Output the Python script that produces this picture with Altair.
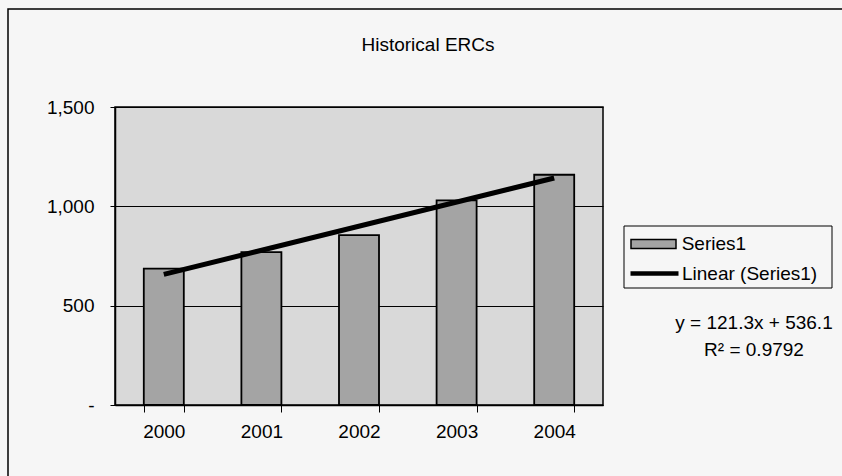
import altair as alt
import pandas as pd

# ---- data ----
years = ["2000", "2001", "2002", "2003", "2004"]
ercs = [686, 770, 855, 1030, 1159]
trend_years = ["2000", "2004"]
trend_values = [657.4, 1142.6]
y_ticks = [0, 500, 1000, 1500]
bar_series = ["Series1"]
line_series = ["Linear (Series1)"]
equation_lines = ["y = 121.3x + 536.1", "R² = 0.9792"]
title_text = "Historical ERCs"

FONT = "Liberation Sans"
W, H = 488, 298
LEFT, TOP = 115, 107
RIGHT, BOTTOM = 842 - LEFT - W, 476 - TOP - H

bars_df = pd.DataFrame({"Year": years, "ERCs": ercs,
                        "bar_series": bar_series * len(years)})
trend_df = pd.DataFrame({"Year": trend_years, "ERCs": trend_values,
                         "line_series": line_series * len(trend_years)})
eq_df = pd.DataFrame({"label": ["\n".join(equation_lines)]})
one_df = pd.DataFrame({"k": [0]})

x_enc = alt.X(
    "Year:N", sort=years,
    scale=alt.Scale(domain=years, paddingInner=0.59, paddingOuter=0.295),
    axis=alt.Axis(title=None, labelAngle=0, tickBand="extent", tickSize=7,
                  labelPadding=10, labelFontSize=19, labelFont=FONT,
                  labelColor="black", domainColor="black", tickColor="black",
                  domainWidth=1.5, tickWidth=1, grid=False),
)
y_enc = alt.Y(
    "ERCs:Q",
    scale=alt.Scale(domain=[0, 1500], nice=False),
    axis=alt.Axis(values=y_ticks, title=None,
                  labelExpr="datum.value == 0 ? '-' : format(datum.value, ',')",
                  grid=True, gridColor="black", gridWidth=1, gridOpacity=1,
                  tickSize=5, tickColor="black", labelPadding=16,
                  labelFontSize=19, labelFont=FONT, labelColor="black",
                  domainColor="black", domainWidth=1.5),
)

frame = alt.Chart(one_df).mark_rect(filled=False, stroke="black", strokeWidth=1.5).encode(
    x=alt.value(8 - LEFT), x2=alt.value(900), y=alt.value(9 - TOP), y2=alt.value(600)
)

bars = alt.Chart(bars_df).mark_bar(stroke="black", strokeWidth=1.8).encode(
    x=x_enc, y=y_enc,
    fill=alt.Fill("bar_series:N",
                  scale=alt.Scale(domain=bar_series, range=["#a4a4a4"]),
                  legend=alt.Legend(orient="none", legendX=515, legendY=113.5,
                                    title=None, padding=0,
                                    symbolType="M-1,-0.2H1V0.2H-1Z", symbolSize=2025,
                                    symbolStrokeColor="black", symbolStrokeWidth=1.5,
                                    labelFontSize=19, labelFont=FONT,
                                    labelColor="black", labelOffset=4.7)),
)

trend = alt.Chart(trend_df).mark_line(strokeWidth=5).encode(
    x=alt.X("Year:N", sort=years),
    y=alt.Y("ERCs:Q"),
    stroke=alt.Stroke("line_series:N",
                      scale=alt.Scale(domain=line_series, range=["black"]),
                      legend=alt.Legend(orient="none", legendX=513, legendY=140,
                                        title=None, padding=0,
                                        symbolType="stroke", symbolSize=2304,
                                        symbolStrokeWidth=4.5,
                                        labelFontSize=19, labelFont=FONT,
                                        labelColor="black", labelOffset=1)),
)

legend_box = alt.Chart(one_df).mark_rect(filled=False, stroke="black", strokeWidth=1).encode(
    x=alt.value(624 - LEFT), x2=alt.value(832 - LEFT),
    y=alt.value(226 - TOP), y2=alt.value(288 - TOP)
)

equation = alt.Chart(eq_df).mark_text(
    lineBreak="\n", align="center", baseline="middle", fontSize=19,
    font=FONT, color="black", lineHeight=27
).encode(
    text="label:N", x=alt.value(754 - LEFT), y=alt.value(323 - TOP)
)

chart = alt.layer(frame, bars, trend, legend_box, equation).resolve_scale(
    fill="independent", stroke="independent"
).properties(
    width=W, height=H,
    title=alt.Title(title_text, fontSize=19, font=FONT, fontWeight="normal",
                    color="black", anchor="middle", frame="group", dx=69,
                    offset=0, dy=62, baseline="alphabetic"),
    autosize=alt.AutoSizeParams(type="none"),
    padding={"left": LEFT, "top": TOP, "right": RIGHT, "bottom": BOTTOM},
    background="#f6f6f6",
).configure_view(
    fill="#d9d9d9", stroke="black", strokeWidth=1.5
)

chart.save("out.html", embed_options={"renderer": "svg", "actions": False})
